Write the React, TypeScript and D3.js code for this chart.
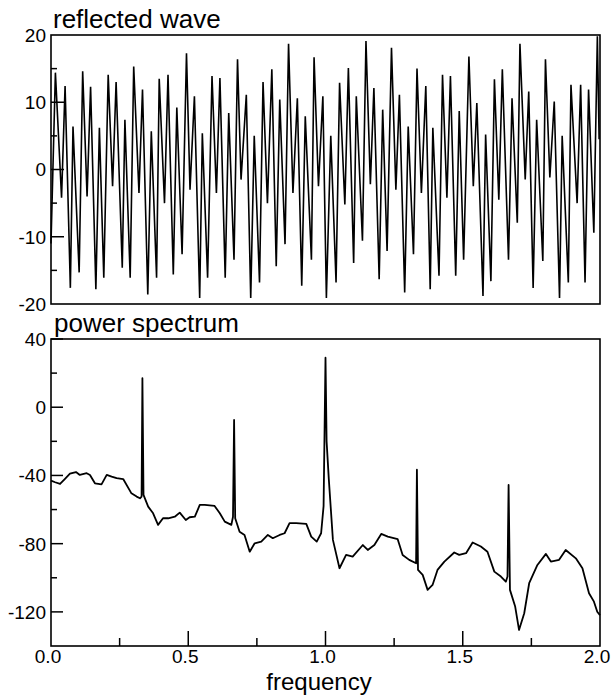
import React from "react";
import * as d3 from "d3";

// reflected wave: extrema (time in cycles, value)
const waveTime = [
  0.0, 0.5, 1.2, 1.6, 2.2, 2.5, 3.2, 3.6, 4.1, 4.5, 5.1, 5.5, 6.0, 6.5, 7.0, 7.4, 8.1, 8.4, 9.0, 9.4, 10.0, 10.4, 11.0, 11.4, 12.0, 12.3, 12.9, 13.3, 13.9, 14.3, 14.9, 15.4,
  15.8, 16.3, 16.9, 17.2, 17.8, 18.3, 18.8, 19.2, 19.8, 20.2, 20.8, 21.2, 21.6, 22.2, 22.7, 23.1, 23.7, 24.1, 24.6, 25.1, 25.6, 26.0, 26.6, 27.0, 27.5, 28.0, 28.5, 28.9, 29.6, 29.9, 30.4, 30.9,
  31.3, 31.8, 32.4, 32.8, 33.4, 33.8, 34.4, 34.7, 35.4, 35.8, 36.3, 36.7, 37.3, 37.7, 38.2, 38.7, 39.2, 39.6, 40.2, 40.6, 41.2, 41.6, 42.1, 42.6, 43.1, 43.4, 44.1, 44.5, 45.0, 45.4, 46.0, 46.4, 46.9,
  47.5, 48.0, 48.4, 49.1, 49.4, 50.0, 50.4, 50.9, 51.3, 52.0, 52.4, 53.0, 53.3, 53.9, 54.3, 54.8, 55.2, 55.9, 56.2, 56.7, 57.2, 57.8, 58.1, 58.8, 59.1, 59.8, 60.2, 60.7, 61.1, 61.7, 62.1, 62.3,
];
const waveValue = [
  -11, 14.4, -4.2, 12.4, -17.6, 6.4, -15.3, 14.6, -4.0, 12.3, -17.8, 6.2, -16.1, 14.1, -2.5, 13.0, -14.6, 7.4, -16.1, 15.3, -3.5, 11.9, -18.6, 5.7, -16.1, 13.5, -5.0, 14.1, -15.6, 9.2, -12.6, 17.3,
  -3.0, 10.9, -19.1, 5.4, -16.1, 13.9, -3.5, 13.6, -16.1, 8.4, -13.4, 16.4, -1.5, 11.1, -19.1, 5.0, -16.8, 13.0, -5.0, 14.9, -14.4, 10.4, -11.1, 18.7, -3.5, 10.6, -17.3, 7.9, -13.4, 16.7, -2.5, 10.9,
  -19.1, 5.0, -16.8, 12.9, -5.2, 15.1, -13.9, 10.9, -10.6, 19.1, -2.2, 12.1, -16.3, 8.9, -12.1, 18.1, -3.0, 11.1, -18.3, 6.4, -12.6, 15.0, -3.5, 12.4, -17.8, 6.2, -15.8, 14.1, -4.2, 13.9, -15.8, 8.7, -13.4,
  16.8, -2.5, 9.9, -18.8, 5.2, -16.6, 13.4, -4.5, 14.9, -13.4, 10.6, -7.9, 18.7, -1.5, 11.6, -17.6, 7.4, -13.6, 16.4, -1.2, 10.1, -19.1, 5.0, -16.8, 12.6, -5.0, 12.6, -16.8, 11.9, -9.4, 19.8, 4.5,
];

// power spectrum
const specFreq = [
  0.0, 0.015, 0.033, 0.051, 0.069, 0.091, 0.105, 0.13, 0.142, 0.16, 0.184, 0.203, 0.221, 0.239, 0.263, 0.293, 0.312, 0.324, 0.33, 0.333, 0.337,
  0.354, 0.372, 0.39, 0.408, 0.427, 0.451, 0.469, 0.491, 0.505, 0.524, 0.542, 0.56, 0.596, 0.615, 0.633, 0.657, 0.663, 0.667, 0.671,
  0.687, 0.705, 0.724, 0.742, 0.766, 0.79, 0.808, 0.833, 0.851, 0.869, 0.893, 0.93, 0.948, 0.968, 0.984, 0.993, 1.0, 1.004, 1.012,
  1.027, 1.051, 1.075, 1.099, 1.136, 1.154, 1.178, 1.203, 1.227, 1.263, 1.281, 1.305, 1.33, 1.333, 1.337,
  1.354, 1.372, 1.39, 1.408, 1.433, 1.469, 1.487, 1.512, 1.536, 1.566, 1.59, 1.615, 1.639, 1.657, 1.663, 1.667, 1.672,
  1.691, 1.705, 1.724, 1.742, 1.772, 1.803, 1.821, 1.851, 1.875, 1.912, 1.936, 1.96, 1.978, 1.99, 2.0,
];
const specPower = [
  -43, -44, -45, -42, -39, -38, -39.7, -38.7, -39.7, -44.6, -45.2, -39.7, -40.7, -41.6, -42.1, -50.5, -52.4, -53.4, -52.4, 17, -51.4,
  -58.3, -62.2, -69.0, -65.1, -65.1, -64.2, -61.8, -66.1, -64.5, -64.2, -57.3, -57.3, -57.9, -62.2, -67.1, -69.0, -64.2, -7.5, -65.1,
  -73.0, -74.9, -84.7, -79.8, -78.8, -74.9, -76.8, -74.9, -73.9, -68.0, -68.0, -68.4, -75.9, -78.8, -73.9, -58, 29, -20, -42,
  -77.8, -94.4, -86.6, -87.6, -80.8, -83.7, -80.8, -74.3, -75.9, -77.4, -86.6, -89.5, -91.5, -36.6, -95.4,
  -98.3, -107.1, -104.2, -95.4, -90.5, -85.2, -86.6, -85.6, -79.3, -81.7, -84.7, -96.4, -99.3, -102.3, -99.3, -45.6, -107.1,
  -116.9, -130.6, -120.8, -103.2, -92.5, -86.0, -90.5, -89.5, -83.7, -88.6, -94.4, -109.1, -114.0, -119.9, -122,
];

const waveLabels = [20, 10, 0, -10, -20];
const waveMajor = [10, 0, -10];
const waveMinor = [15, 5, -5, -15];
const specLabels = [40, 0, -40, -80, -120];
const specMinor = [20, -20, -60, -100];
const freqLabels = [0, 0.5, 1, 1.5, 2];
const freqMajor = [0.5, 1, 1.5];
const freqMinor = [0.25, 0.75, 1.25, 1.75];

const font = "'Liberation Sans', Arial, Helvetica, sans-serif";

export default function App() {
  const left = 51;
  const right = 600;
  const top1 = 35;
  const bottom1 = 304;
  const top2 = 339;
  const bottom2 = 646;

  const xWave = d3.scaleLinear().domain([0, 62.4]).range([left, right]);
  const yWave = d3.scaleLinear().domain([-20, 20]).range([bottom1, top1]);
  const xFreq = d3.scaleLinear().domain([0, 2]).range([left, right]);
  const yPow = d3.scaleLinear().domain([-140, 40]).range([bottom2, top2]);

  const wavePts = waveTime.map((t, i) => [t, waveValue[i]] as [number, number]);
  const specPts = specFreq.map((f, i) => [f, specPower[i]] as [number, number]);

  const waveLine = d3.line<[number, number]>().x((d) => xWave(d[0])).y((d) => yWave(d[1]));
  const specLine = d3.line<[number, number]>().x((d) => xFreq(d[0])).y((d) => yPow(d[1]));

  const tickLabel = (v: number) => (v < 0 ? "-" + Math.abs(v) : String(v));

  return (
    <svg width={612} height={697} style={{ position: "absolute", left: 0, top: 0, background: "#fff" }}
      fontFamily={font}>
      {/* top panel */}
      <text x={53} y={28} fontSize={26}>reflected wave</text>
      <rect x={left} y={top1} width={right - left} height={bottom1 - top1} fill="none" stroke="#000" strokeWidth={1.6} />
      {waveMajor.map((v) => (
        <line key={"wm" + v} x1={left} x2={left + 13} y1={yWave(v)} y2={yWave(v)} stroke="#000" strokeWidth={1.5} />
      ))}
      {waveMinor.map((v) => (
        <line key={"wn" + v} x1={left} x2={left + 6} y1={yWave(v)} y2={yWave(v)} stroke="#000" strokeWidth={1.5} />
      ))}
      {waveLabels.map((v) => (
        <text key={"wl" + v} x={left - 5} y={yWave(v)} dy="0.36em" textAnchor="end" fontSize={19}>{tickLabel(v)}</text>
      ))}
      <path d={waveLine(wavePts) || ""} fill="none" stroke="#000" strokeWidth={1.6} />

      {/* bottom panel */}
      <text x={54} y={332} fontSize={26}>power spectrum</text>
      <rect x={left} y={top2} width={right - left} height={bottom2 - top2} fill="none" stroke="#000" strokeWidth={1.6} />
      {specLabels.map((v) => (
        <line key={"sm" + v} x1={left} x2={left + 12} y1={yPow(v)} y2={yPow(v)} stroke="#000" strokeWidth={1.5} />
      ))}
      {specMinor.map((v) => (
        <line key={"sn" + v} x1={left} x2={left + 6} y1={yPow(v)} y2={yPow(v)} stroke="#000" strokeWidth={1.5} />
      ))}
      {specLabels.map((v) => (
        <text key={"sl" + v} x={left - 5} y={yPow(v)} dy="0.36em" textAnchor="end" fontSize={19}>{tickLabel(v)}</text>
      ))}
      {freqMajor.map((v) => (
        <line key={"fm" + v} x1={xFreq(v)} x2={xFreq(v)} y1={bottom2} y2={bottom2 - 15} stroke="#000" strokeWidth={1.5} />
      ))}
      {freqMinor.map((v) => (
        <line key={"fn" + v} x1={xFreq(v)} x2={xFreq(v)} y1={bottom2} y2={bottom2 - 8} stroke="#000" strokeWidth={1.5} />
      ))}
      {freqLabels.map((v) => (
        <text key={"fl" + v} x={xFreq(v) - 3} y={663} textAnchor="middle" fontSize={19}>{v.toFixed(1)}</text>
      ))}
      <path d={specLine(specPts) || ""} fill="none" stroke="#000" strokeWidth={1.8} strokeLinejoin="round" />
      <text x={319} y={690} textAnchor="middle" fontSize={24}>frequency</text>
    </svg>
  );
}
